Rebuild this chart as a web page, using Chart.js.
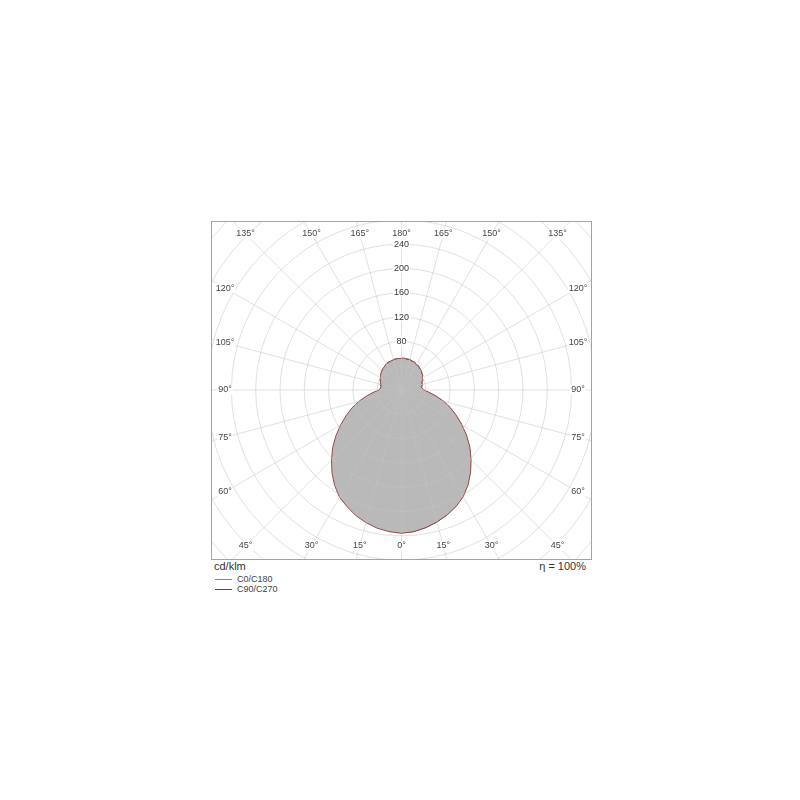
<!DOCTYPE html>
<html><head><meta charset="utf-8">
<script src="https://cdn.jsdelivr.net/npm/chart.js@4"></script>
<style>
html,body{margin:0;padding:0;background:#fff;width:800px;height:800px;overflow:hidden;font-family:"Liberation Sans",Arial,sans-serif;}
#box{position:absolute;left:211px;top:221px;width:379px;height:337px;border:1px solid #a3a3a3;overflow:hidden;}
#box canvas{display:block;}
.txt{position:absolute;color:#333;white-space:nowrap;line-height:1;}
.ln{position:absolute;width:17px;height:1px;}
</style></head>
<body>
<div id="box"><canvas id="c" width="379" height="337"></canvas></div>
<div class="txt" style="left:214px;top:561px;font-size:11px;">cd/klm</div>
<div class="txt" style="left:486px;width:100px;text-align:right;top:561px;font-size:11px;">η = 100%</div>
<div class="ln" style="left:215px;top:579px;background:#cc6a6a"></div>
<div class="txt" style="left:237px;top:575px;font-size:9px;color:#444;">C0/C180</div>
<div class="ln" style="left:215px;top:589px;background:#4a4a4a"></div>
<div class="txt" style="left:237px;top:585px;font-size:9px;color:#444;">C90/C270</div>
<script>
// gamma angles (degrees) 0..180
const gamma = [0,5,10,15,20,25,30,35,40,45,50,55,60,65,70,75,80,85,90,95,100,105,110,115,120,125,130,135,140,145,150,155,160,165,170,175,180];
// luminous intensity, cd/klm
const c0   = [236,234,230,225,219,212,203,191,177,162,147,131,115,100,86,72,58,46,37,34,33,36,35,39,39,43,43,46,46,49,48,51,50,52,51,53,52];
const c180 = [236,234,231,226,220,212,204,192,178,163,148,132,116,101,87,73,59,47,37,35,34,35,37,38,40,42,44,45,47,48,50,50,51,51,52,52,52];
const c90  = [235,234,230,225,219,211,202,190,176,161,146,130,114,99,85,71,57,45,36,33,34,35,36,38,40,41,44,45,47,48,49,50,51,52,52,52,52];
const c270 = [235,233,229,225,218,211,202,190,176,161,146,130,114,99,85,71,57,45,36,34,34,36,36,39,40,42,43,46,46,48,49,51,50,52,52,52,52];
const shownTicks = [80,120,160,200,240];
const seriesNames = ['C0/C180','C90/C270'];

// radar order: clockwise from top; right half = C0/C90 (180 -> 0), left half = C180/C270 (5 -> 175)
const labels = [...gamma.slice().reverse(), ...gamma.slice(1, -1)];
const d1 = [...c0.slice().reverse(), ...c180.slice(1, -1)];
const d2 = [...c90.slice().reverse(), ...c270.slice(1, -1)];

const W = 379, H = 337, CX = 189.5, CY = 168, PX_PER_UNIT = 0.6075, RMAX = 440;
const FONT = '"Liberation Sans", Arial, sans-serif';
const GRID = 'rgba(195,195,195,0.5)';

const angleLabelPlugin = {
  id: 'angleLabels',
  afterDraw(chart) {
    const s = chart.scales.r, ctx = chart.ctx;
    const L = 13, R = W - 13, T = 12, B = H - 13;
    ctx.save();
    ctx.font = '9px ' + FONT;
    ctx.textAlign = 'center';
    ctx.textBaseline = 'middle';
    labels.forEach((g, i) => {
      if (g % 15 !== 0) return;
      const a = s.getIndexAngle(i) - Math.PI / 2;
      const dx = Math.cos(a), dy = Math.sin(a);
      let t = Infinity;
      if (dx > 1e-6) t = Math.min(t, (R - s.xCenter) / dx);
      if (dx < -1e-6) t = Math.min(t, (L - s.xCenter) / dx);
      if (dy > 1e-6) t = Math.min(t, (B - s.yCenter) / dy);
      if (dy < -1e-6) t = Math.min(t, (T - s.yCenter) / dy);
      const x = s.xCenter + dx * t, y = s.yCenter + dy * t;
      const txt = g + '°';
      const w = ctx.measureText(txt).width;
      ctx.fillStyle = '#fff';
      ctx.fillRect(x - w / 2 - 1, y - 5, w + 2, 10);
      ctx.fillStyle = '#444';
      ctx.fillText(txt, x, y);
    });
    ctx.restore();
  }
};

new Chart(document.getElementById('c'), {
  type: 'radar',
  data: {
    labels: labels,
    datasets: [
      { label: seriesNames[0], data: d1, borderColor: '#9a4c4c', borderWidth: 1, backgroundColor: '#b9b9b9', fill: true, pointRadius: 0, tension: 0 },
      { label: seriesNames[1], data: d2, borderColor: '#444444', borderWidth: 1, backgroundColor: '#b9b9b9', fill: true, pointRadius: 0, tension: 0 }
    ]
  },
  options: {
    responsive: false,
    animation: false,
    layout: { padding: 0 },
    plugins: { legend: { display: false }, tooltip: { enabled: false } },
    scales: {
      r: {
        min: 0, max: RMAX,
        startAngle: 0,
        afterFit(scale) {
          scale.xCenter = CX;
          scale.yCenter = CY;
          scale.drawingArea = RMAX * PX_PER_UNIT;
        },
        grid: { circular: true, color: GRID, lineWidth: 1, z: 1 },
        angleLines: { display: true, color: GRID, lineWidth: (c) => (c.index % 3 === 0 ? 1 : 0) },
        pointLabels: { display: false },
        ticks: {
          stepSize: 40,
          z: 2,
          color: '#333',
          font: { size: 9, family: FONT },
          callback: (v) => (shownTicks.includes(v) ? String(v) : ''),
          showLabelBackdrop: (c) => shownTicks.includes(c.tick && c.tick.value),
          backdropColor: '#fff',
          backdropPadding: { x: 1, y: 0 }
        }
      }
    }
  },
  plugins: [angleLabelPlugin]
});
</script>
</body></html>
